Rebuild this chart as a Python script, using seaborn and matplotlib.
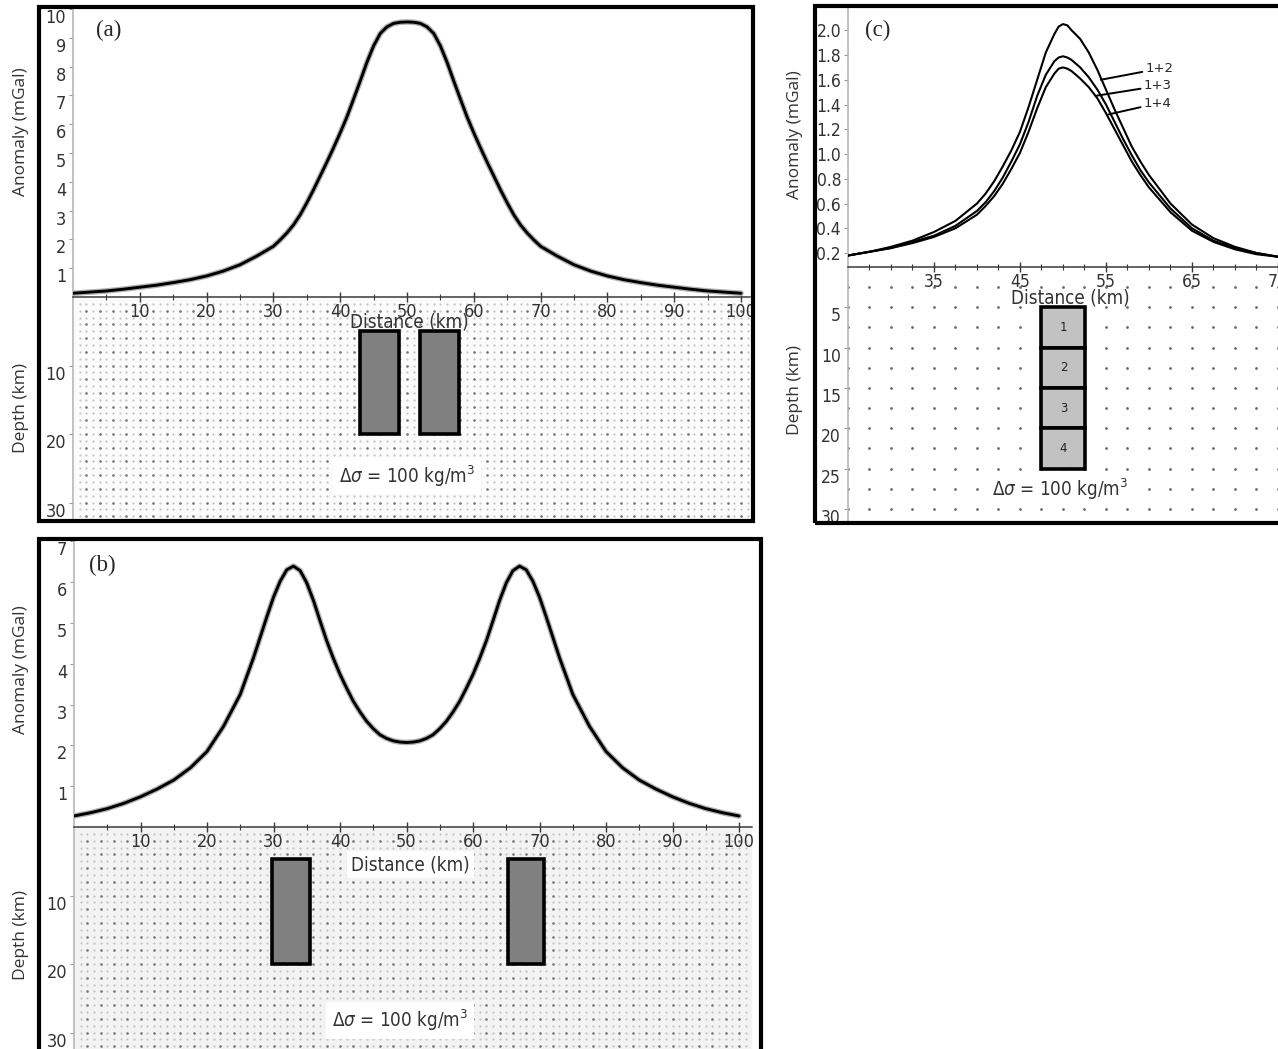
import matplotlib.pyplot as plt
from matplotlib import font_manager
from matplotlib.patches import Rectangle
import numpy as np
import seaborn as sns

# distanze (km) e anomalie (mGal)
dist_a = [0, 2.5, 5, 7.5, 10, 12.5, 15, 17.5, 20, 22.5, 25, 27.5,
          30, 31, 32, 33, 34, 35, 36, 37, 38, 39, 40, 41, 42, 43, 44, 45, 46, 47, 48, 49,
          50, 51, 52, 53, 54, 55, 56, 57, 58, 59, 60, 61, 62, 63, 64, 65, 66, 67, 68, 69, 70,
          72.5, 75, 77.5, 80, 82.5, 85, 87.5, 90, 92.5, 95, 97.5, 100]
anom_a = [0.13, 0.17, 0.21, 0.27, 0.34, 0.41, 0.50, 0.60, 0.73, 0.90, 1.12, 1.42,
          1.76, 1.98, 2.22, 2.50, 2.85, 3.27, 3.72, 4.20, 4.68, 5.18, 5.70, 6.25, 6.87, 7.50,
          8.15, 8.72, 9.15, 9.38, 9.50, 9.54,
          9.55, 9.54, 9.50, 9.38, 9.15, 8.72, 8.15, 7.50, 6.87, 6.25, 5.70, 5.18, 4.68, 4.20,
          3.72, 3.27, 2.85, 2.50, 2.22, 1.98, 1.76,
          1.42, 1.12, 0.90, 0.73, 0.60, 0.50, 0.41, 0.34, 0.27, 0.21, 0.17, 0.13]

dist_b = [0, 2.5, 5, 7.5, 10, 12.5, 15, 17.5, 20, 22.5,
          25, 26, 27, 28, 29, 30, 31, 32, 33, 34, 35, 36, 37, 38, 39, 40, 41, 42, 43, 44, 45,
          46, 47, 48, 49, 50, 51, 52, 53, 54, 55, 56, 57, 58, 59, 60, 61, 62, 63, 64, 65,
          66, 67, 68, 69, 70, 71, 72, 73, 74, 75,
          77.5, 80, 82.5, 85, 87.5, 90, 92.5, 95, 97.5, 100]
anom_b = [0.27, 0.35, 0.45, 0.58, 0.74, 0.93, 1.15, 1.45, 1.85, 2.47,
          3.25, 3.70, 4.15, 4.65, 5.15, 5.63, 6.02, 6.30, 6.39, 6.28, 5.98, 5.55, 5.05, 4.56,
          4.13, 3.74, 3.40, 3.08, 2.82, 2.59, 2.41, 2.26, 2.17, 2.11, 2.08, 2.07, 2.08, 2.11,
          2.17, 2.26, 2.41, 2.59, 2.82, 3.08, 3.40, 3.74, 4.13, 4.56, 5.05, 5.55, 5.98,
          6.28, 6.39, 6.30, 6.02, 5.63, 5.15, 4.65, 4.15, 3.70, 3.25,
          2.47, 1.85, 1.45, 1.15, 0.93, 0.74, 0.58, 0.45, 0.35, 0.27]

dist_c = [25, 27.5, 30, 32.5, 35, 37.5,
          40, 41, 42, 43, 44, 45, 46, 47, 48, 49, 49.5, 50, 50.5, 51, 52, 53, 54, 55, 56, 57,
          58, 59, 60, 62.5, 65, 67.5, 70, 72.5, 75]
anom_c12 = [0.18, 0.21, 0.25, 0.30, 0.37, 0.46,
            0.60, 0.68, 0.78, 0.90, 1.03, 1.18, 1.38, 1.60, 1.82, 1.97, 2.03, 2.05, 2.04, 2.00,
            1.93, 1.82, 1.68, 1.52, 1.36, 1.21, 1.06, 0.94, 0.83,
            0.60, 0.43, 0.32, 0.25, 0.20, 0.17]
anom_c13 = [0.18, 0.21, 0.24, 0.29, 0.34, 0.42,
            0.54, 0.61, 0.70, 0.81, 0.94, 1.08, 1.26, 1.47, 1.64, 1.75, 1.78, 1.79, 1.78, 1.76,
            1.70, 1.62, 1.52, 1.40, 1.26, 1.12, 0.99, 0.87, 0.77,
            0.56, 0.40, 0.30, 0.24, 0.20, 0.17]
anom_c14 = [0.18, 0.21, 0.24, 0.28, 0.33, 0.40,
            0.51, 0.58, 0.66, 0.76, 0.88, 1.01, 1.18, 1.37, 1.54, 1.65, 1.69, 1.70, 1.69, 1.67,
            1.61, 1.54, 1.45, 1.33, 1.20, 1.07, 0.94, 0.83, 0.73,
            0.53, 0.38, 0.29, 0.23, 0.19, 0.17]
labels_c = ['1+2', '1+3', '1+4']

# prismi: (x inizio, x fine, profondita' top, profondita' base) in km
prisms_a = [(43.0, 48.8, 5, 20), (52.0, 57.8, 5, 20)]
prisms_b = [(29.8, 35.5, 4.7, 20), (65.2, 70.7, 4.7, 20)]
prisms_c = [(47.5, 52.6, 5, 10), (47.5, 52.6, 10, 15), (47.5, 52.6, 15, 20), (47.5, 52.6, 20, 25)]
names_c = ['1', '2', '3', '4']
density_txt = r'$\mathit{\Delta\sigma}$ = 100 kg/m$^3$'

sns.set_style('white')
installed = {f.name for f in font_manager.fontManager.ttflist}
tick_font = 'Liberation Sans Narrow' if 'Liberation Sans Narrow' in installed else 'DejaVu Sans'
plt.rcParams['font.family'] = [tick_font, 'DejaVu Sans']
plt.rcParams['font.stretch'] = 'condensed'
plt.rcParams['mathtext.fontset'] = 'dejavusans'
label_font = 'Open Sans'

W, H = 1278, 1049
fig = plt.figure(figsize=(W / 100, H / 100), dpi=100)


def box(x0, y0, x1, y1):
    return fig.add_axes([x0 / W, 1 - y1 / H, (x1 - x0) / W, (y1 - y0) / H])


def frame(x0, y0, x1, y1):
    fig.add_artist(Rectangle((x0 / W, 1 - y1 / H), (x1 - x0) / W, (y1 - y0) / H,
                             transform=fig.transFigure, fill=False, ec='black', lw=3, zorder=20))


def ylab(ax, text, px, py, x0, y0, x1, y1):
    ax.set_ylabel(text, family=label_font, fontstretch='normal', fontsize=12.5, color='#333333')
    ax.yaxis.set_label_coords((px - x0) / (x1 - x0), (y1 - py) / (y1 - y0))


def clean(ax, face='white'):
    ax.set_facecolor(face)
    for s in ['top', 'right', 'bottom']:
        ax.spines[s].set_visible(False)
    ax.spines['left'].set_color('#b8b8b8')
    ax.spines['left'].set_linewidth(1.2)


def labels_top(ax):
    for lbl in ax.get_yticklabels():
        lbl.set_va('top')


def lower_panel(ax, xmax, ymax, prisms, face, dots, fill, dot_step):
    clean(ax, face)
    xs = np.arange(dot_step, xmax, dot_step)
    ys = np.arange(dot_step, ymax, dot_step)
    gx, gy = np.meshgrid(xs, ys)
    if dots == 'dense':
        sns.scatterplot(x=gx.ravel(), y=gy.ravel(), s=2.5, color='#c4c4c4', linewidth=0, ax=ax, zorder=1)
        gx2, gy2 = np.meshgrid(xs[1::2], ys[1::2])
        sns.scatterplot(x=gx2.ravel(), y=gy2.ravel(), s=3.5, color='#7a7a7a', linewidth=0, ax=ax, zorder=1)
    else:
        sns.scatterplot(x=gx.ravel(), y=gy.ravel(), s=4, color='#6a6a6a', linewidth=0, ax=ax, zorder=1)
    for x0, x1, top, bot in prisms:
        ax.add_patch(Rectangle((x0, top), x1 - x0, bot - top, fc=fill, ec='black', lw=2.6, zorder=3))
    ax.set_ylim(ymax, 0)
    ax.set_xticks([])
    ax.tick_params(axis='y', direction='out', length=3, color='#999999', labelsize=13,
                   labelcolor='#333333', pad=2, left=True)


def upper_panel(ax, xticks, minor, labelsize):
    clean(ax)
    ax.spines['bottom'].set_visible(True)
    ax.spines['bottom'].set_color('#3a3a3a')
    ax.spines['bottom'].set_linewidth(1.1)
    ax.set_xticks(xticks)
    ax.set_xticks(minor, minor=True)
    ax.tick_params(axis='x', which='major', direction='inout', length=7, width=1, color='#3a3a3a',
                   labelsize=labelsize, labelcolor='#333333', pad=1, bottom=True)
    ax.tick_params(axis='x', which='minor', direction='inout', length=4, width=0.8, color='#3a3a3a',
                   bottom=True)
    ax.tick_params(axis='y', direction='out', length=3, color='#999999', labelsize=labelsize,
                   labelcolor='#333333', pad=2, left=True)
    ax.set_xlabel('')


# ---------------- pannello (a)
ax_al = box(73, 297, 750, 519)
ax_al.set_xlim(0, 101.35)
lower_panel(ax_al, 101.35, 32.4, prisms_a, '#fbfbfb', 'dense', '#808080', 1)
ax_al.set_yticks([10, 20, 30])
labels_top(ax_al)
ax_al.text(50.4, 3.6, 'Distance (km)', ha='center', va='center', fontsize=13.5, color='#333333', zorder=4)
ax_al.text(50.0, 26.1, density_txt, ha='center', va='center', fontsize=13.5, color='#333333', zorder=4,
           bbox=dict(fc='white', ec='none', pad=4))
ylab(ax_al, 'Depth (km)', 29, 408, 73, 297, 750, 519)

ax_a = box(73, 9, 750, 297)
sns.lineplot(x=dist_a, y=anom_a, ax=ax_a, color='#b0b0b0', linewidth=4.0, zorder=2)
sns.lineplot(x=dist_a, y=anom_a, ax=ax_a, color='black', linewidth=2.1, zorder=3)
ax_a.set_xlim(0, 101.35)
ax_a.set_ylim(0, 10.0)
upper_panel(ax_a, list(range(10, 101, 10)), list(range(5, 101, 10)), 13)
ax_a.set_yticks(list(range(1, 11)))
labels_top(ax_a)
ax_a.text(3.4, 9.25, '(a)', family='Liberation Serif', fontstretch='normal', fontsize=16.5,
          va='center', ha='left')
ylab(ax_a, 'Anomaly (mGal)', 29, 132, 73, 9, 750, 297)
frame(39, 7, 753, 521)

# ---------------- pannello (b)
ax_bl = box(74, 827, 752, 1049)
ax_bl.set_xlim(0, 101.95)
lower_panel(ax_bl, 101.95, 32.4, prisms_b, '#f3f3f3', 'dense', '#808080', 1)
ax_bl.set_yticks([10, 20, 30])
labels_top(ax_bl)
ax_bl.text(50.6, 5.5, 'Distance (km)', ha='center', va='center', fontsize=13.5, color='#333333', zorder=4,
           bbox=dict(fc='white', ec='none', pad=3))
ax_bl.text(49.0, 28.2, density_txt, ha='center', va='center', fontsize=13.5, color='#333333', zorder=4,
           bbox=dict(fc='white', ec='none', pad=4))
ylab(ax_bl, 'Depth (km)', 29, 935, 74, 827, 752, 1049)

ax_b = box(74, 540, 752, 827)
sns.lineplot(x=dist_b, y=anom_b, ax=ax_b, color='#b0b0b0', linewidth=4.0, zorder=2)
sns.lineplot(x=dist_b, y=anom_b, ax=ax_b, color='black', linewidth=2.1, zorder=3)
ax_b.set_xlim(0, 101.95)
ax_b.set_ylim(0, 7.03)
upper_panel(ax_b, list(range(10, 101, 10)), list(range(5, 101, 10)), 13)
ax_b.set_yticks(list(range(1, 8)))
labels_top(ax_b)
ax_b.text(2.2, 6.4, '(b)', family='Liberation Serif', fontstretch='normal', fontsize=16.5,
          va='center', ha='left')
ylab(ax_b, 'Anomaly (mGal)', 29, 670, 74, 540, 752, 827)
frame(39, 539, 761, 1054)

# ---------------- pannello (c)
ax_cl = box(848, 267, 1290, 521)
ax_cl.set_xlim(25, 76.4)
lower_panel(ax_cl, 76.4, 31.5, prisms_c, '#c2c2c2', 'sparse', '#c2c2c2', 2.5)
ax_cl.set_facecolor('white')
ax_cl.set_xlim(25, 76.4)
for (x0, x1, top, bot), name in zip(prisms_c, names_c):
    ax_cl.text((x0 + x1) / 2, (top + bot) / 2, name, ha='center', va='center', fontsize=8.5,
               family='DejaVu Sans', fontstretch='normal', color='#222222', zorder=4)
ax_cl.set_yticks([5, 10, 15, 20, 25, 30])
ax_cl.tick_params(axis='y', labelsize=12.5)
labels_top(ax_cl)
ax_cl.text(50.8, 3.9, 'Distance (km)', ha='center', va='center', fontsize=13.5, color='#333333', zorder=4)
ax_cl.text(49.6, 27.6, density_txt, ha='center', va='center', fontsize=13.5, color='#333333', zorder=4,
           bbox=dict(fc='white', ec='none', pad=2))
ylab(ax_cl, 'Depth (km)', 803, 390, 848, 267, 1290, 521)

ax_c = box(848, 8, 1290, 267)
for series in [anom_c12, anom_c13, anom_c14]:
    sns.lineplot(x=dist_c, y=series, ax=ax_c, color='black', linewidth=1.5, zorder=3)
ax_c.set_xlim(25, 76.4)
ax_c.set_ylim(0.087, 2.18)
upper_panel(ax_c, [35, 45, 55, 65, 75], list(np.arange(27.5, 76, 2.5)), 12.5)
ax_c.set_yticks([0.2, 0.4, 0.6, 0.8, 1.0, 1.2, 1.4, 1.6, 1.8, 2.0])
ax_c.set_yticklabels(['0.2', '0.4', '0.6', '0.8', '1.0', '1.2', '1.4', '1.6', '1.8', '2.0'])
ax_c.text(27.0, 2.0, '(c)', family='Liberation Serif', fontstretch='normal', fontsize=16.5,
          va='center', ha='left')
label_at = [(54.4, 1.60), (53.8, 1.47), (55.3, 1.32)]
text_at = [(59.6, 1.69), (59.4, 1.55), (59.4, 1.41)]
for lab, xy, xyt in zip(labels_c, label_at, text_at):
    ax_c.annotate(lab, xy=xy, xytext=xyt, fontsize=9.5, family='DejaVu Sans', fontstretch='normal',
                  va='center', ha='left',
                  arrowprops=dict(arrowstyle='-', color='black', lw=1.4, shrinkA=0, shrinkB=0))
ylab(ax_c, 'Anomaly (mGal)', 803, 135, 848, 8, 1290, 267)
frame(815, 6, 1300, 523)

fig.savefig('out.png', dpi=100)
plt.close()
